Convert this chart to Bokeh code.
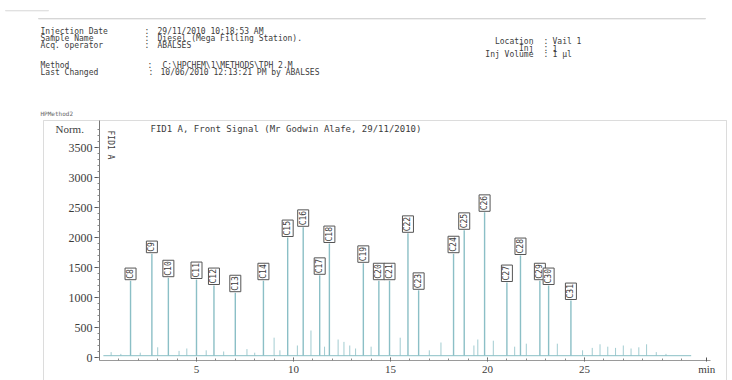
from math import pi
from bokeh.plotting import figure
from bokeh.models import Label, Range1d, ColumnDataSource, FixedTicker, BoxAnnotation
from bokeh.core.properties import value
from bokeh.embed import file_html
from bokeh.resources import INLINE

# ---------------- data ----------------
peak_names = ["C8", "C9", "C10", "C11", "C12", "C13", "C14", "C15", "C16", "C17",
              "C18", "C19", "C20", "C21", "C22", "C23", "C24", "C25", "C26", "C27",
              "C28", "C29", "C30", "C31"]
peak_rt = [1.6, 2.7, 3.55, 5.0, 5.9, 7.0, 8.45, 9.7, 10.5, 11.35,
           11.85, 13.6, 14.4, 14.95, 15.9, 16.45, 18.25, 18.8, 19.85, 21.0,
           21.7, 22.7, 23.15, 24.3]
peak_height = [1280, 1730, 1330, 1300, 1200, 1080, 1280, 2000, 2170, 1370,
               1900, 1570, 1280, 1280, 2070, 1120, 1730, 2120, 2420, 1250,
               1700, 1280, 1200, 950]

minor_rt = [0.6, 1.1, 2.1, 3.0, 4.1, 4.5, 5.5, 6.4, 7.6, 8.0, 9.0, 9.3, 10.2, 10.9,
            11.6, 12.3, 12.6, 12.9, 13.2, 14.0, 15.5, 17.0, 17.6, 19.3, 19.5, 20.3,
            21.4, 22.0, 23.6, 24.9, 25.4, 25.8, 26.2, 26.6, 27.0, 27.4, 27.8, 28.2,
            28.7, 29.2]
minor_height = [90, 60, 80, 170, 110, 150, 120, 100, 140, 80, 330, 120, 200, 450,
                180, 300, 260, 200, 150, 180, 330, 120, 250, 200, 300, 280,
                180, 230, 230, 120, 160, 220, 180, 160, 200, 150, 170, 220,
                90, 60]
baseline_t = [0.2, 30.5]
baseline_y = [30, 30]

y_ticks = [0, 500, 1000, 1500, 2000, 2500, 3000, 3500]
x_ticks = [5, 10, 15, 20, 25, 31.3]
x_tick_labels = {5: "5", 10: "10", 15: "15", 20: "20", 25: "25", 31.3: "min"}

header_keys = ["Injection Date", "Sample Name", "Acq. operator", "Method", "Last Changed"]
header_vals = ["29/11/2010 10:18:53 AM", "Diesel (Mega Filling Station).", "ABALSES",
               "C:\\HPCHEM\\1\\METHODS\\TPH 2.M", "10/06/2010 12:13:21 PM by ABALSES"]
right_keys = ["Location", "Inj", "Inj Volume"]
right_vals = ["Vail 1", "1", "1 \u00b5l"]
signal_title = "FID1 A, Front Signal  (Mr Godwin Alafe, 29/11/2010)"

# ---------------- figure: frame covers the whole canvas ----------------
W, H = 732, 380
X0_PX, PX_PER_MIN = 99.0, 19.4      # where t=0 sits, horizontal scale
Y0_PX, PX_PER_UNIT = 357.0, 0.06     # where signal 0 sits, vertical scale
xr = Range1d(-X0_PX / PX_PER_MIN, (W - X0_PX) / PX_PER_MIN)
yr = Range1d(-(H - Y0_PX) / PX_PER_UNIT, Y0_PX / PX_PER_UNIT)

p = figure(width=W, height=H, output_backend="svg", toolbar_location=None,
           x_range=xr, y_range=yr, min_border=0, min_border_left=0,
           min_border_right=0, min_border_top=0, min_border_bottom=0,
           background_fill_color="white", border_fill_color="white")
p.grid.visible = False
p.outline_line_color = None

TEXT = "#3c3c3c"
PEAK = "#8bbfc6"

# axes placed at fixed data locations inside the frame
p.xaxis.fixed_location = -50
p.xaxis.bounds = (0, 31.5)
p.xaxis.ticker = FixedTicker(ticks=x_ticks, minor_ticks=list(range(1, 31)))
p.xaxis.major_label_overrides = x_tick_labels
p.xaxis.major_label_text_font = "Liberation Serif"
p.xaxis.major_label_text_font_size = "11px"
p.xaxis.major_label_text_color = TEXT
p.xaxis.major_label_standoff = 1
p.xaxis.major_tick_in = 3
p.xaxis.major_tick_out = 1
p.xaxis.minor_tick_in = 2
p.xaxis.minor_tick_out = 0
p.xaxis.axis_line_color = "#9a9a9a"
p.xaxis.major_tick_line_color = "#555555"
p.xaxis.minor_tick_line_color = "#888888"

p.yaxis.fixed_location = 0
p.yaxis.bounds = (-50, 3950)
p.yaxis.ticker = FixedTicker(ticks=y_ticks, minor_ticks=list(range(0, 3900, 100)))
p.yaxis.major_label_text_font = "Liberation Serif"
p.yaxis.major_label_text_font_size = "12px"
p.yaxis.major_label_text_color = TEXT
p.yaxis.major_label_standoff = 2
p.yaxis.major_tick_in = 0
p.yaxis.major_tick_out = 5
p.yaxis.minor_tick_in = 0
p.yaxis.minor_tick_out = 2
p.yaxis.axis_line_color = "#777777"
p.yaxis.major_tick_line_color = "#555555"
p.yaxis.minor_tick_line_color = "#888888"

# baseline + peaks
p.line(baseline_t, baseline_y, line_color=PEAK, line_width=1)
minor_src = ColumnDataSource(dict(x=minor_rt, y=minor_height,
                                  y0=[baseline_y[0]] * len(minor_rt)))
p.segment(x0="x", y0="y0", x1="x", y1="y", source=minor_src,
          line_color=PEAK, line_width=1, line_alpha=0.8)
src = ColumnDataSource(dict(x=peak_rt, y=peak_height, name=peak_names,
                            y0=[baseline_y[0]] * len(peak_rt)))
p.segment(x0="x", y0="y0", x1="x", y1="y", source=src,
          line_color=PEAK, line_width=1.4)
p.text(x="x", y="y", text="name", source=src, angle=pi / 2,
       text_align="left", text_baseline="middle", y_offset=-1,
       text_font=value("DejaVu Sans Mono"), text_font_size="8px",
       text_color=TEXT, border_line_color="#555555", border_line_width=1,
       background_fill_color="white", padding=1)


# ---------------- page furniture (screen units, frame == canvas) ----------------
def lab(txt, x, y, size="8px", font="DejaVu Sans Mono", align="left", angle=0, color=TEXT):
    p.add_layout(Label(x=x, y=H - y, x_units="screen", y_units="screen", text=txt,
                       text_font=font, text_font_size=size, text_color=color,
                       text_align=align, text_baseline="middle", angle=angle))


rows_y = [31, 38, 45, 65, 72]
colon_x = [144, 144, 144, 147, 148]
val_x = [157, 157, 157, 162, 160]
for k, v, yy, cx, vx in zip(header_keys, header_vals, rows_y, colon_x, val_x):
    lab(k, 40, yy)
    lab(":", cx, yy)
    lab(v, vx, yy)

right_y = [41, 47.5, 54]
for k, v, yy in zip(right_keys, right_vals, right_y):
    lab(k, 533, yy, align="right")
    lab(":", 543, yy)
    lab(v, 552, yy)

lab("HPMethod2", 40, 113, size="6px", color="#666666")
lab("Norm.", 55, 128, size="11px", font="Liberation Serif")
lab(signal_title, 150, 128, size="9px")
lab("FID1 A", 110, 130, size="8px", angle=-pi / 2)


def rule(left, right, top, bottom, color="#8a8a8a"):
    p.add_layout(BoxAnnotation(left=left, right=right, top=H - top, bottom=H - bottom,
                               left_units="screen", right_units="screen",
                               top_units="screen", bottom_units="screen",
                               fill_alpha=0, line_color=color, line_width=1))


rule(38, 705, 18, 18.5, "#9a9a9a")      # header rule
rule(5, 48, 10, 10.5, "#b5b5b5")        # small mark top-left
rule(43, 726, 120, 395)                 # outer chart box

open("out.html", "w").write(file_html(p, INLINE))
